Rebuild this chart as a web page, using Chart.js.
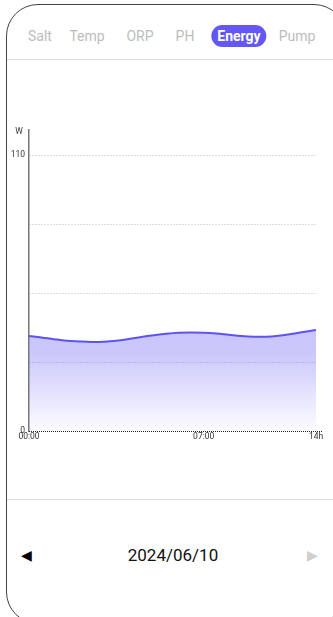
<!DOCTYPE html>
<html>
<head>
<meta charset="utf-8">
<script src="https://cdn.jsdelivr.net/npm/chart.js@4/dist/chart.umd.min.js"></script>
<style>
  html, body { margin: 0; padding: 0; background: #fff; font-family: Roboto, "Noto Sans", sans-serif; }
  body { width: 333px; height: 617px; position: relative; overflow: hidden; }
  .card { position: absolute; left: 6px; top: 4px; width: 340px; height: 620px; border: 1.5px solid #444; border-radius: 32px; box-sizing: border-box; }
  .tabs { position: absolute; top: 25px; left: 0; width: 333px; height: 22px; }
  .tab { position: absolute; top: 0; line-height: 22px; font-size: 14px; color: #bdbdbd; transform: translateX(-50%); white-space: nowrap; }
  .tab.active { background: #6457f5; color: #fff; font-weight: bold; border-radius: 11px; padding: 0 6px; }
  .divider { position: absolute; left: 7px; right: 0; height: 1px; background: #dcdcdc; }
  #wrap { position: absolute; left: 0; top: 110px; width: 333px; height: 340px; }
  .date { position: absolute; top: 545px; left: 0; width: 346px; text-align: center; font-size: 17px; color: #111; }
  .arrow { position: absolute; top: 547px; font-size: 14px; }
</style>
</head>
<body>
<div class="card"></div>
<div class="tabs">
  <span class="tab" style="left:40px">Salt</span>
  <span class="tab" style="left:87px">Temp</span>
  <span class="tab" style="left:140px">ORP</span>
  <span class="tab" style="left:185px">PH</span>
  <span class="tab active" style="left:239px">Energy</span>
  <span class="tab" style="left:297px">Pump</span>
</div>
<div class="divider" style="top:59px"></div>
<div id="wrap"><canvas id="chart" width="333" height="340"></canvas></div>
<div class="divider" style="top:499px"></div>
<span class="arrow" style="left:21px;color:#000">&#9664;</span>
<div class="date">2024/06/10</div>
<span class="arrow" style="left:307px;color:#cfcfcf">&#9654;</span>
<script>
// half-hour samples, 00:00 .. 11:30
const xValues = [0, 1, 2, 3, 4, 5, 6, 7, 8, 9, 10, 11, 12, 13, 14, 15, 16, 17, 18, 19, 20, 21, 22, 23];
const energyValues = [37.9, 37.3, 36.6, 36.0, 35.7, 35.5, 35.6, 36.0, 36.7, 37.5, 38.2, 38.8, 39.2, 39.3, 39.2, 38.9, 38.4, 37.9, 37.6, 37.6, 38.0, 38.7, 39.5, 40.3];
const xTickValues = [0, 14, 23];
const xTickLabels = ['00:00', '07:00', '14h'];
const yTickValues = [0, 27.5, 55, 82.5, 110];
const yTickLabels = ['0', '', '', '', '110'];
const yUnit = 'W';

const axisExtras = {
    id: 'axisExtras',
    afterDraw(chart) {
        const { ctx, chartArea, scales } = chart;
        ctx.save();
        // x axis dotted line, runs a bit past the last point
        ctx.strokeStyle = '#222';
        ctx.lineWidth = 1;
        ctx.setLineDash([1, 1]);
        ctx.beginPath();
        ctx.moveTo(chartArea.left, chartArea.bottom + 0.5);
        ctx.lineTo(chartArea.right + 7, chartArea.bottom + 0.5);
        ctx.stroke();
        // unit label
        ctx.setLineDash([]);
        ctx.fillStyle = '#333';
        ctx.font = '8.5px Roboto, sans-serif';
        ctx.textAlign = 'center';
        ctx.textBaseline = 'middle';
        ctx.fillText(yUnit, chartArea.left - 10, scales.y.top + 2);
        ctx.restore();
    }
};

const canvas = document.getElementById('chart');
const ctx = canvas.getContext('2d');

new Chart(ctx, {
    type: 'line',
    data: {
        datasets: [{
            data: xValues.map((x, i) => ({ x: x, y: energyValues[i] })),
            borderColor: '#5f52f2',
            borderWidth: 2,
            pointRadius: 0,
            tension: 0.4,
            fill: 'origin',
            backgroundColor: (c) => {
                const area = c.chart.chartArea;
                if (!area) return 'rgba(120,110,245,0.4)';
                const g = c.chart.ctx.createLinearGradient(0, 200, 0, area.bottom);
                g.addColorStop(0, 'rgba(110,100,245,0.38)');
                g.addColorStop(0.35, 'rgba(110,100,245,0.36)');
                g.addColorStop(1, 'rgba(110,100,245,0.02)');
                return g;
            }
        }]
    },
    options: {
        responsive: false,
        animation: false,
        layout: { padding: { top: 20, right: 17, left: 0, bottom: 0 } },
        plugins: { legend: { display: false }, tooltip: { enabled: false } },
        scales: {
            x: {
                type: 'linear',
                min: 0,
                max: 23,
                afterBuildTicks: (s) => { s.ticks = xTickValues.map(v => ({ value: v })); },
                afterFit: (s) => { s.height = 19; },
                grid: { display: false, drawTicks: false },
                border: { display: false },
                ticks: {
                    maxRotation: 0,
                    padding: 1,
                    color: '#333',
                    font: { size: 8.5, family: 'Roboto' },
                    callback: (v) => xTickLabels[xTickValues.indexOf(v)] ?? ''
                }
            },
            y: {
                min: 0,
                max: 120,
                afterBuildTicks: (s) => { s.ticks = yTickValues.map(v => ({ value: v })); },
                afterFit: (s) => { s.width = 29; },
                grid: {
                    color: (c) => c.tick && c.tick.value === 0 ? 'rgba(0,0,0,0)' : '#bbb',
                    drawTicks: false
                },
                border: { display: true, color: '#777', width: 1.5, dash: [1, 2] },
                ticks: {
                    padding: 4,
                    color: '#333',
                    font: { size: 8.5, family: 'Roboto' },
                    callback: (v) => yTickLabels[yTickValues.indexOf(v)] ?? ''
                }
            }
        }
    },
    plugins: [axisExtras]
});
</script>
</body>
</html>
